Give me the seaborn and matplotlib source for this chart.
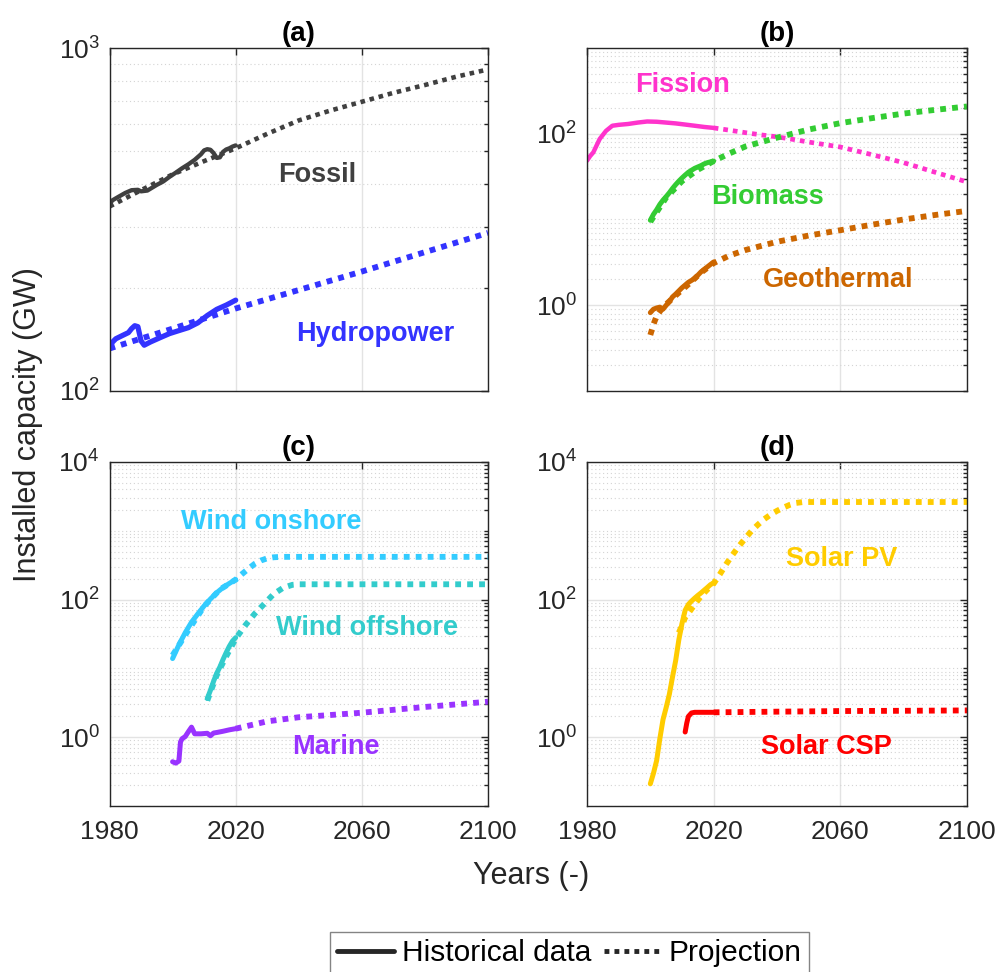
import numpy as np
import pandas as pd
import matplotlib
matplotlib.use("Agg")
import matplotlib.pyplot as plt
import seaborn as sns
from matplotlib.ticker import LogLocator, NullFormatter, FuncFormatter, FixedLocator
from matplotlib.lines import Line2D

sns.set_theme(style="white")
plt.rcParams["font.family"] = ["Liberation Sans", "DejaVu Sans"]
plt.rcParams["mathtext.fontset"] = "custom"
plt.rcParams["mathtext.rm"] = "Liberation Sans"
plt.rcParams["mathtext.it"] = "Liberation Sans:italic"
plt.rcParams["mathtext.bf"] = "Liberation Sans:bold"

# ---------------- data (GW) ----------------
x_ticks = [1980, 2020, 2060, 2100]
panel_titles = ["(a)", "(b)", "(c)", "(d)"]

fossil_hist_years = [1980, 1981, 1983, 1985, 1987, 1989, 1990, 1992, 1995, 1997, 1999, 2001, 2003, 2005, 2007, 2009, 2010, 2011, 2012, 2013, 2014, 2015, 2016, 2017, 2018, 2019, 2020]
fossil_hist_vals = [352, 360, 369, 378, 385, 386, 382, 384, 399, 408, 421, 433, 446, 458, 472, 490, 503, 507, 505, 494, 478, 480, 498, 506, 510, 516, 520]
fossil_proj_years = [1980, 1990, 2000, 2010, 2020, 2030, 2040, 2050, 2060, 2070, 2080, 2090, 2100]
fossil_proj_vals = [345, 385, 428, 468, 510, 562, 615, 657, 697, 740, 780, 825, 866]

hydro_hist_years = [1980, 1981, 1982, 1984, 1986, 1987, 1988, 1989, 1990, 1991, 1993, 1996, 1999, 2002, 2005, 2008, 2011, 2014, 2017, 2020]
hydro_hist_vals = [135, 139, 142, 145, 148, 152, 155, 154, 140, 136, 139, 143, 147, 150, 153, 158, 166, 173, 178, 184]
hydro_proj_years = [1980, 2000, 2020, 2040, 2060, 2080, 2100]
hydro_proj_vals = [133, 152, 174, 197, 223, 254, 289]

fission_hist_years = [1980, 1981, 1982, 1984, 1986, 1988, 1990, 1993, 1996, 1999, 2002, 2005, 2008, 2011, 2014, 2017, 2020]
fission_hist_vals = [48.5, 55, 60.7, 86.8, 108, 124, 127, 130, 135, 139, 138, 135, 132, 128, 124, 120, 117]
fission_proj_years = [2020, 2025, 2030, 2035, 2040, 2045, 2050, 2060, 2070, 2080, 2090, 2100]
fission_proj_vals = [117, 110, 103, 97, 92, 86, 80, 70, 57, 46, 35.5, 27.4]

biomass_hist_years = [2000, 2001, 2002, 2003, 2004, 2005, 2006, 2007, 2008, 2009, 2010, 2011, 2012, 2013, 2014, 2015, 2016, 2017, 2018, 2019, 2020]
biomass_hist_vals = [9.8, 11.5, 13, 15, 16.8, 18.5, 20.5, 23, 25.5, 28, 30.5, 33, 35.5, 37.5, 39.5, 41, 42.5, 44.5, 46, 47, 48]
biomass_proj_years = [2000, 2005, 2010, 2015, 2020, 2025, 2030, 2040, 2050, 2060, 2070, 2080, 2090, 2100]
biomass_proj_vals = [9.4, 18, 28, 38, 48, 59, 71, 90, 112, 133, 152, 172, 190, 208]

geo_hist_years = [2000, 2001, 2002, 2003, 2004, 2005, 2006, 2007, 2008, 2010, 2012, 2014, 2016, 2018, 2020]
geo_hist_vals = [0.82, 0.9, 0.93, 0.95, 0.9, 1.0, 1.1, 1.25, 1.35, 1.6, 1.85, 2.05, 2.45, 2.8, 3.2]
geo_proj_years = [2000, 2001, 2002, 2004, 2008, 2012, 2016, 2020, 2025, 2030, 2040, 2050, 2060, 2070, 2080, 2090, 2100]
geo_proj_vals = [0.45, 0.6, 0.75, 0.95, 1.3, 1.75, 2.4, 3.1, 3.8, 4.4, 5.5, 6.5, 7.5, 8.7, 10, 11.3, 12.6]

onshore_hist_years = [2000, 2002, 2004, 2006, 2008, 2010, 2012, 2014, 2016, 2018, 2020]
onshore_hist_vals = [13.9, 22, 33, 47, 62, 81, 102, 126, 150, 172, 196]
onshore_proj_years = [2000, 2005, 2010, 2015, 2020, 2022, 2024, 2026, 2028, 2030, 2032, 2034, 2036, 2100]
onshore_proj_vals = [15.5, 36, 80, 140, 195, 235, 280, 330, 370, 398, 412, 417, 418, 418]

offshore_hist_years = [2011, 2012, 2013, 2014, 2015, 2016, 2017, 2018, 2019, 2020]
offshore_hist_vals = [3.65, 4.8, 6.5, 8.5, 10.5, 13.5, 17, 21, 25, 28]
offshore_proj_years = [2011, 2014, 2017, 2020, 2023, 2026, 2029, 2032, 2035, 2038, 2040, 2100]
offshore_proj_vals = [3.4, 8, 15, 27, 42, 62, 86, 120, 148, 164, 167, 167]

marine_hist_years = [2000, 2001, 2002, 2002.5, 2003, 2004, 2005, 2006, 2007, 2009, 2011, 2012, 2013, 2014, 2016, 2018, 2020]
marine_hist_vals = [0.44, 0.42, 0.45, 0.85, 0.95, 1.02, 1.2, 1.4, 1.12, 1.12, 1.14, 1.05, 1.15, 1.17, 1.22, 1.28, 1.33]
marine_proj_years = [2020, 2030, 2040, 2050, 2060, 2070, 2080, 2090, 2100]
marine_proj_vals = [1.33, 1.7, 1.95, 2.1, 2.27, 2.5, 2.75, 3.0, 3.28]

pv_hist_years = [2000, 2001, 2002, 2003, 2004, 2005, 2006, 2007, 2008, 2009, 2010, 2011, 2012, 2013, 2014, 2015, 2016, 2017, 2018, 2019, 2020]
pv_hist_vals = [0.21, 0.3, 0.46, 0.95, 1.8, 2.7, 4.2, 7.5, 13, 26, 45, 70, 85, 95, 105, 115, 125, 137, 150, 165, 175]
pv_proj_years = [2009, 2010, 2011, 2012, 2014, 2016, 2018, 2020, 2022, 2024, 2026, 2028, 2030, 2032, 2034, 2036, 2038, 2040, 2042, 2044, 2046, 2048, 2050, 2100]
pv_proj_vals = [33, 42, 55, 63, 85, 112, 140, 171, 235, 330, 450, 600, 780, 1000, 1230, 1480, 1720, 1950, 2170, 2380, 2540, 2610, 2620, 2620]

csp_hist_years = [2011, 2011.5, 2012, 2013, 2014, 2016, 2018, 2020]
csp_hist_vals = [1.19, 1.6, 2.0, 2.25, 2.3, 2.3, 2.3, 2.3]
csp_proj_years = [2020, 2040, 2060, 2080, 2100]
csp_proj_vals = [2.3, 2.35, 2.4, 2.42, 2.45]

# ---------------- figure ----------------
W, H = 998, 972
fig = plt.figure(figsize=(W / 100, H / 100), dpi=100)


def add_ax(l, t, r, b):
    return fig.add_axes([l / W, 1 - b / H, (r - l) / W, (b - t) / H])


axes = [add_ax(109.5, 48, 488, 391), add_ax(587, 48, 967, 391),
        add_ax(109.5, 462, 488, 806), add_ax(587, 462, 967, 806)]
ylims = [(100, 1000), (0.1, 1000), (0.1, 1e4), (0.1, 1e4)]
ybase = [10, 100, 100, 100]

tick_color = "#262626"
fmt = FuncFormatter(lambda v, p: r"$\mathregular{10^{%d}}$" % int(round(np.log10(v))))

for i, ax in enumerate(axes):
    ax.set_yscale("log")
    ax.set_xlim(1980, 2100)
    ax.set_ylim(*ylims[i])
    ax.xaxis.set_major_locator(FixedLocator(x_ticks))
    ax.yaxis.set_major_locator(LogLocator(base=ybase[i], numticks=10))
    ax.yaxis.set_minor_locator(LogLocator(base=10, subs=np.arange(1, 10), numticks=50))
    ax.yaxis.set_major_formatter(fmt)
    ax.yaxis.set_minor_formatter(NullFormatter())
    ax.grid(True, which="major", axis="both", color="#e3e3e3", lw=1.0, ls="-")
    ax.grid(True, which="minor", axis="y", color="#d4d4d4", lw=0.8, ls=(0, (1, 2.5)))
    ax.tick_params(which="both", direction="in", top=True, right=True,
                   colors=tick_color, labelsize=19, width=1)
    ax.tick_params(which="major", length=5, pad=7)
    ax.tick_params(which="minor", length=3)
    ax.tick_params(axis="x", pad=10)
    for s in ax.spines.values():
        s.set_color(tick_color)
        s.set_linewidth(1.0)
        s.set_visible(True)
    ax.set_title(panel_titles[i], fontsize=20, fontweight="bold", pad=5, color="black")
    ax.set_axisbelow(True)
    if i < 2:
        ax.set_xticklabels([])
    ax.set_xlabel("")
    ax.set_ylabel("")

DOT = (0, (1, 1.05))
series = [
    (0, "Fossil", "#404040", fossil_hist_years, fossil_hist_vals, fossil_proj_years, fossil_proj_vals, 3.1, 3.3, (2045.7, 426)),
    (0, "Hydropower", "#3333ff", hydro_hist_years, hydro_hist_vals, hydro_proj_years, hydro_proj_vals, 3.8, 4.2, (2064.2, 147)),
    (1, "Fission", "#ff33cc", fission_hist_years, fission_hist_vals, fission_proj_years, fission_proj_vals, 3.2, 3.4, (2010.2, 366)),
    (1, "Biomass", "#33cc33", biomass_hist_years, biomass_hist_vals, biomass_proj_years, biomass_proj_vals, 3.6, 4.2, (2037, 18.2)),
    (1, "Geothermal", "#cc6600", geo_hist_years, geo_hist_vals, geo_proj_years, geo_proj_vals, 3.6, 4.2, (2059.4, 1.95)),
    (2, "Wind onshore", "#33ccff", onshore_hist_years, onshore_hist_vals, onshore_proj_years, onshore_proj_vals, 3.6, 4.2, (2031.4, 1340)),
    (2, "Wind offshore", "#33cccc", offshore_hist_years, offshore_hist_vals, offshore_proj_years, offshore_proj_vals, 3.6, 4.2, (2061.5, 38.9)),
    (2, "Marine", "#9933ff", marine_hist_years, marine_hist_vals, marine_proj_years, marine_proj_vals, 3.6, 4.2, (2051.9, 0.72)),
    (3, "Solar PV", "#ffcc00", pv_hist_years, pv_hist_vals, pv_proj_years, pv_proj_vals, 3.6, 4.2, (2060.3, 394)),
    (3, "Solar CSP", "#ff0000", csp_hist_years, csp_hist_vals, csp_proj_years, csp_proj_vals, 3.6, 4.2, (2055.6, 0.72)),
]

for (ai, name, col, hy, hv, py, pv, lwh, lwp, tpos) in series:
    ax = axes[ai]
    dfp = pd.DataFrame({"year": py, "GW": pv})
    dfh = pd.DataFrame({"year": hy, "GW": hv})
    sns.lineplot(data=dfp, x="year", y="GW", ax=ax, color=col, lw=lwp,
                 linestyle=DOT, estimator=None, dash_capstyle="butt")
    sns.lineplot(data=dfh, x="year", y="GW", ax=ax, color=col, lw=lwh,
                 linestyle="-", estimator=None, solid_joinstyle="round")
    ax.text(tpos[0], tpos[1], name, color=col, fontsize=19.5, fontweight="bold",
            ha="center", va="center")
    ax.set_xlabel("")
    ax.set_ylabel("")

fig.text(28 / W, 1 - 425 / H, "Installed capacity (GW)", rotation=90, fontsize=22,
         color=tick_color, ha="center", va="center")
fig.text(531 / W, 1 - 876 / H, "Years (-)", fontsize=22, color=tick_color,
         ha="center", va="center")

handles = [Line2D([], [], color="#262626", lw=3.5, ls="-"),
           Line2D([], [], color="#262626", lw=3.5, ls=DOT, dash_capstyle="butt")]
leg = fig.legend(handles=handles, labels=["Historical data", "Projection"],
                 loc="upper center", bbox_to_anchor=(569.5 / W, 1 - 932 / H),
                 ncol=2, fontsize=21.5, frameon=True, fancybox=False,
                 handlelength=1.9, handletextpad=0.26, columnspacing=0.45,
                 borderpad=0.25, borderaxespad=0)
leg.get_frame().set_edgecolor("#666666")
leg.get_frame().set_linewidth(1.0)
for t in leg.get_texts():
    t.set_color("black")

fig.savefig("out.png", dpi=100)
